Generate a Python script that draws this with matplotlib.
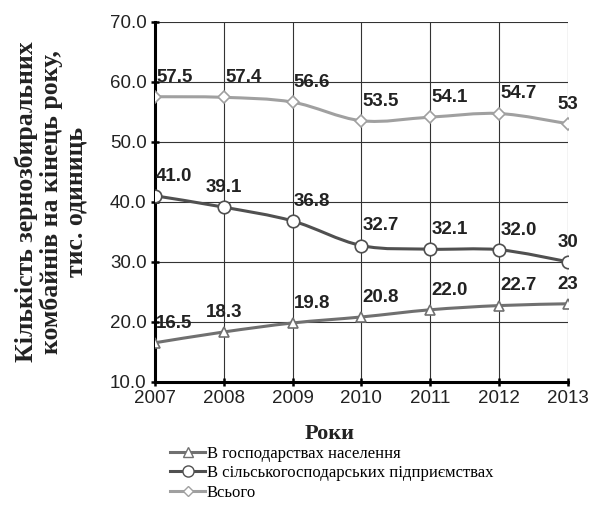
import matplotlib
matplotlib.use("Agg")
import matplotlib.pyplot as plt
import numpy as np
from matplotlib.path import Path
from matplotlib.patches import PathPatch
from matplotlib.lines import Line2D

years = [2007, 2008, 2009, 2010, 2011, 2012, 2013]
households = [16.5, 18.3, 19.8, 20.8, 22.0, 22.7, 23]
enterprises = [41.0, 39.1, 36.8, 32.7, 32.1, 32.0, 30]
total = [57.5, 57.4, 56.6, 53.5, 54.1, 54.7, 53]
hh_labels = ["16.5", "18.3", "19.8", "20.8", "22.0", "22.7", "23"]
ent_labels = ["41.0", "39.1", "36.8", "32.7", "32.1", "32.0", "30"]
tot_labels = ["57.5", "57.4", "56.6", "53.5", "54.1", "54.7", "53"]

names = ["В господарствах населення",
         "В сільськогосподарських підприємствах",
         "Всього"]

SERIF = "Liberation Serif"
SANS = "Liberation Sans"


def smooth_path(xs, ys):
    # Excel-like smoothed line: cubic Bezier with Catmull-Rom tangents
    xs = np.asarray(xs, float)
    ys = np.asarray(ys, float)
    verts = [(xs[0], ys[0])]
    codes = [Path.MOVETO]
    n = len(xs)
    for i in range(n - 1):
        p0 = np.array([xs[max(i - 1, 0)], ys[max(i - 1, 0)]])
        p1 = np.array([xs[i], ys[i]])
        p2 = np.array([xs[i + 1], ys[i + 1]])
        p3 = np.array([xs[min(i + 2, n - 1)], ys[min(i + 2, n - 1)]])
        c1 = p1 + (p2 - p0) / 6.0
        c2 = p2 - (p3 - p1) / 6.0
        verts += [tuple(c1), tuple(c2), tuple(p2)]
        codes += [Path.CURVE4] * 3
    return Path(verts, codes)


fig = plt.figure(figsize=(5.91, 5.05), dpi=100)
ax = fig.add_axes([0.262, 0.244, 0.699, 0.713])

# label placement per point (most sit to the right of the point)
hh_ha = ["left", "center", "left", "left", "left", "left", "center"]
ent_ha = ["left", "center", "left", "left", "left", "left", "center"]
tot_ha = ["left", "left", "left", "left", "left", "left", "center"]

series = [
    (households, hh_labels, hh_ha, "#707070", "^", 7),
    (enterprises, ent_labels, ent_ha, "#505050", "o", 9),
    (total, tot_labels, tot_ha, "#a0a0a0", "D", 6),
]
for vals, labs, has, col, mk, ms in series:
    ax.add_patch(PathPatch(smooth_path(years, vals), fill=False,
                           edgecolor=col, lw=2.2, zorder=3))
    ax.plot(years, vals, ls="none", marker=mk, ms=ms, mfc="white",
            mec=col, mew=1.2, zorder=4)
    for x, y, t, h in zip(years, vals, labs, has):
        dx = 1 if h == "left" else 0
        ax.annotate(t, (x, y), xytext=(dx, 8), textcoords="offset points",
                    ha=h, va="bottom", fontsize=13.5,
                    fontweight="bold", family=SANS, color="#222222",
                    zorder=5, clip_on=False)

ax.set_xlim(2007, 2013)
ax.set_ylim(10, 70)
ax.set_xticks(years)
ax.set_yticks(np.arange(10, 71, 10))
ax.set_yticklabels([f"{v:.1f}" for v in np.arange(10, 71, 10)])
ax.grid(True, color="#333333", lw=0.8)
ax.tick_params(labelsize=13.5, length=6, width=1.8, direction="inout",
               pad=3, labelcolor="#222222")
for lab in ax.get_xticklabels() + ax.get_yticklabels():
    lab.set_family(SANS)
ax.spines["left"].set_linewidth(2.2)
ax.spines["bottom"].set_linewidth(2.2)
ax.spines["top"].set_visible(False)
ax.spines["right"].set_visible(False)

ax.set_ylabel("Кількість зернозбиральних\nкомбайнів на кінець року,\nтис. одиниць",
              family=SERIF, fontweight="bold", fontsize=18.5,
              linespacing=1.1, color="#222222")
ax.yaxis.set_label_coords(-0.162, 0.5)
ax.set_xlabel("Роки", family=SERIF, fontweight="bold", fontsize=16,
              color="#222222")
ax.xaxis.set_label_coords(0.424, -0.117)

handles = [
    Line2D([], [], color="#707070", lw=2.2, marker="^", ms=7,
           mfc="white", mec="#707070"),
    Line2D([], [], color="#505050", lw=2.2, marker="o", ms=8,
           mfc="white", mec="#505050"),
    Line2D([], [], color="#a0a0a0", lw=2.2, marker="D", ms=5,
           mfc="white", mec="#a0a0a0"),
]
fig.legend(handles, names, loc="upper left", bbox_to_anchor=(0.288, 0.117),
           frameon=False, prop={"family": SERIF, "size": 12},
           handlelength=2.1, handletextpad=0.1, labelspacing=0.2,
           borderpad=0, borderaxespad=0)

fig.savefig("out.png", dpi=100)
